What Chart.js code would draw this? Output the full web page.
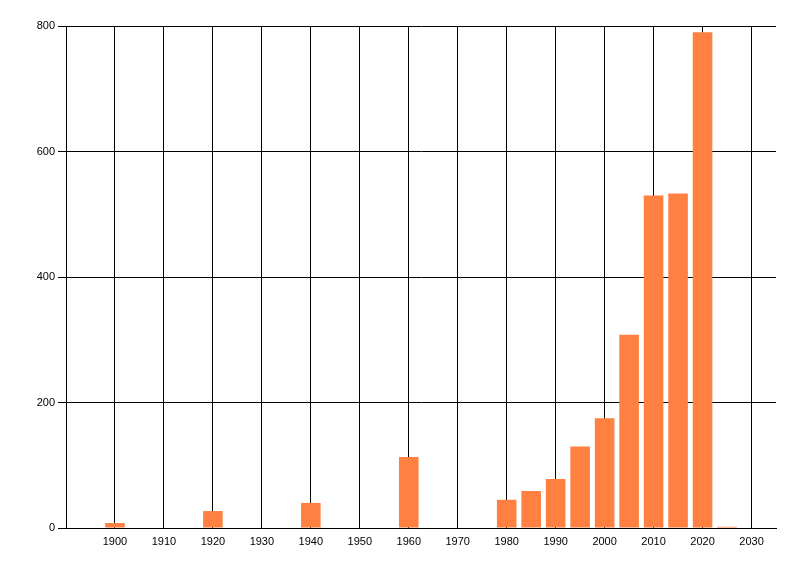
<!DOCTYPE html>
<html>
<head>
<meta charset="utf-8">
<script src="https://cdn.jsdelivr.net/npm/chart.js@4/dist/chart.umd.min.js"></script>
<style>
	html, body { margin: 0; padding: 0; background: #fff; }
	canvas { display: block; }
</style>
</head>
<body>
<canvas id="chart" width="800" height="576"></canvas>
<script>
// data
const years = [1900, 1905, 1910, 1915, 1920, 1925, 1930, 1935, 1940, 1945, 1950, 1955, 1960, 1965,
	1970, 1975, 1980, 1985, 1990, 1995, 2000, 2005, 2010, 2015, 2020, 2025];
const counts = [8, 0, 0, 0, 27, 0, 0, 0, 40, 0, 0, 0, 113, 0,
	0, 0, 45, 59, 78, 130, 175, 308, 530, 533, 790, 2];
const xTicks = [1900, 1910, 1920, 1930, 1940, 1950, 1960, 1970, 1980, 1990, 2000, 2010, 2020, 2030];
const yTicks = [0, 200, 400, 600, 800];

const font = { family: "'Liberation Sans', Arial, sans-serif", size: 11 };

new Chart(document.getElementById("chart"), {
	type: "bar",
	data: {
		datasets: [{
			data: years.map((y, i) => ({ x: y, y: counts[i] })),
			backgroundColor: "rgb(255,128,64)",
			borderWidth: 0,
			barPercentage: 0.8,
			categoryPercentage: 1.0,
		}],
	},
	options: {
		responsive: false,
		devicePixelRatio: 1,
		animation: false,
		layout: { padding: { top: 26, right: 24, left: 0, bottom: 0 } },
		plugins: { legend: { display: false }, tooltip: { enabled: false } },
		scales: {
			x: {
				type: "linear",
				min: 1890,
				max: 2035,
				offset: false,
				afterBuildTicks: (scale) => { scale.ticks = xTicks.map((v) => ({ value: v })); },
				afterFit: (scale) => { scale.height = 48; },
				grid: { color: "#000", lineWidth: 1, drawTicks: false, offset: false },
				border: { color: "#000", width: 1 },
				ticks: { color: "#000", font, padding: 7, maxRotation: 0, autoSkip: false, callback: (v) => String(v) },
			},
			y: {
				min: 0,
				max: 800,
				afterBuildTicks: (scale) => { scale.ticks = yTicks.map((v) => ({ value: v })); },
				afterFit: (scale) => { scale.width = 66; },
				grid: { color: "#000", lineWidth: 1, tickLength: 8 },
				border: { color: "#000", width: 1 },
				ticks: { color: "#000", font, padding: 3, callback: (v) => String(v) },
			},
		},
	},
});
</script>
</body>
</html>
